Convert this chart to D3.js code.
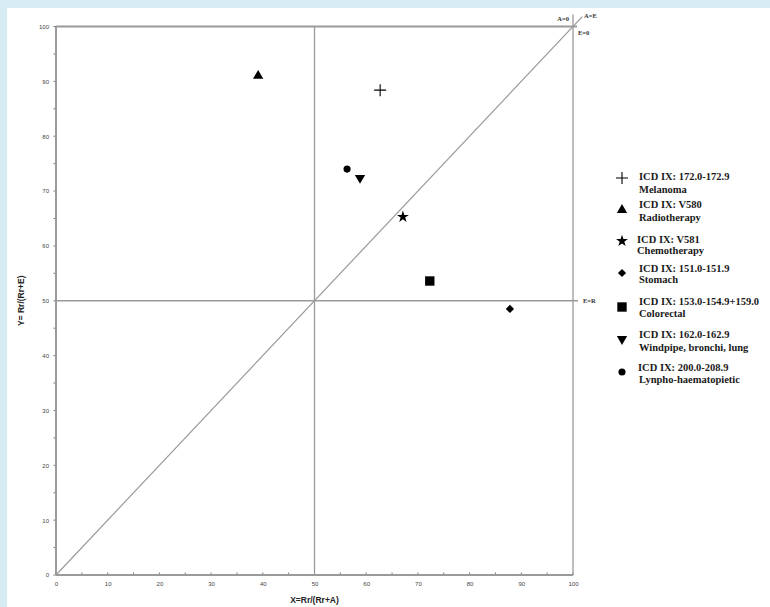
<!DOCTYPE html>
<html>
<head>
<meta charset="utf-8">
<script src="https://cdn.jsdelivr.net/npm/d3@7"></script>
<style>
body{margin:0;background:#d7ecf2;}
svg{display:block;}
</style>
</head>
<body>
<svg id="chart" width="770" height="607"></svg>
<script>
// ---- data ----
const codes = ["ICD IX: 172.0-172.9","ICD IX: V580","ICD IX: V581","ICD IX: 151.0-151.9","ICD IX: 153.0-154.9+159.0","ICD IX: 162.0-162.9","ICD IX: 200.0-208.9"];
const names = ["Melanoma","Radiotherapy","Chemotherapy","Stomach","Colorectal","Windpipe, bronchi, lung","Lynpho-haematopietic"];
const xValues = [62.7, 39.1, 67.1, 87.8, 72.3, 58.8, 56.3];
const yValues = [88.4, 91.0, 65.3, 48.5, 53.6, 72.4, 74.0];
const shapes = ["plus","triangle","star","diamond","square","triangleDown","circle"];
const tickValues = [0,10,20,30,40,50,60,70,80,90,100];
const minorTicks = [5,15,25,35,45,55,65,75,85,95];

const svg = d3.select("#chart");
svg.append("rect").attr("x",7).attr("y",8).attr("width",763).attr("height",599).attr("fill","#fff");

const x = d3.scaleLinear().domain([0,100]).range([56,573]);
const y = d3.scaleLinear().domain([0,100]).range([575,26.5]);
const gray = "#9a9a9a";

// axes
const xAxis = d3.axisBottom(x).tickValues(tickValues).tickSize(0).tickPadding(7).tickFormat(d3.format("d"));
const yAxis = d3.axisLeft(y).tickValues(tickValues).tickSize(0).tickPadding(7).tickFormat(d3.format("d"));
const gx = svg.append("g").attr("transform",`translate(0,${y(0)})`).call(xAxis);
const gy = svg.append("g").attr("transform",`translate(${x(0)},0)`).call(yAxis);
[gx,gy].forEach(g=>{
  g.select(".domain").remove();
  g.selectAll("text").attr("font-family","Liberation Sans, Arial, sans-serif").attr("font-size",6).attr("fill","#444");
});
// tick marks
svg.append("g").selectAll("line").data(tickValues.concat(minorTicks)).join("line")
  .attr("x1",d=>x(d)).attr("x2",d=>x(d)).attr("y1",y(0)-2.5).attr("y2",y(0))
  .attr("stroke","#777").attr("stroke-width",1);
svg.append("g").selectAll("line").data(tickValues.concat(minorTicks)).join("line")
  .attr("y1",d=>y(d)).attr("y2",d=>y(d)).attr("x1",x(0)-2.5).attr("x2",x(0))
  .attr("stroke","#777").attr("stroke-width",1);

// frame
svg.append("line").attr("x1",x(0)).attr("x2",x(0)).attr("y1",y(0)).attr("y2",y(100)).attr("stroke",gray).attr("stroke-width",2);
svg.append("line").attr("x1",x(0)).attr("x2",x(100)).attr("y1",y(0)).attr("y2",y(0)).attr("stroke",gray).attr("stroke-width",2);
svg.append("line").attr("x1",x(0)).attr("x2",x(100)+4).attr("y1",y(100)).attr("y2",y(100)).attr("stroke",gray).attr("stroke-width",2);
svg.append("line").attr("x1",x(100)).attr("x2",x(100)).attr("y1",y(0)).attr("y2",y(100)-12).attr("stroke",gray).attr("stroke-width",1.3);
// reference lines
svg.append("line").attr("x1",x(50)).attr("x2",x(50)).attr("y1",y(0)).attr("y2",y(100)).attr("stroke",gray).attr("stroke-width",1.3);
svg.append("line").attr("x1",x(0)).attr("x2",x(100)+5).attr("y1",y(50)).attr("y2",y(50)).attr("stroke",gray).attr("stroke-width",1.3);
svg.append("line").attr("x1",x(0)).attr("y1",y(0)).attr("x2",x(101.8)).attr("y2",y(101.8)).attr("stroke",gray).attr("stroke-width",1.2);

// line labels
const lab = (t,xx,yy,anchor)=>svg.append("text").attr("x",xx).attr("y",yy).attr("text-anchor",anchor||"start")
  .attr("font-family","Liberation Serif, Times New Roman, serif").attr("font-weight","bold").attr("font-size",6.5).attr("fill","#333").text(t);
lab("A=0",x(100)-4,y(100)-6,"end");
lab("A=E",x(100)+11,y(100)-9);
lab("E=0",x(100)+5,y(100)+8);
lab("E=R",x(100)+10,y(50)+2);

// axis titles
svg.append("text").attr("x",x(50)).attr("y",603).attr("text-anchor","middle")
  .attr("font-family","Liberation Sans, Arial, sans-serif").attr("font-weight","bold").attr("font-size",8.5).attr("fill","#222").text("X=Rr/(Rr+A)");
svg.append("text").attr("transform",`translate(24,${y(50)}) rotate(-90)`).attr("text-anchor","middle")
  .attr("font-family","Liberation Sans, Arial, sans-serif").attr("font-weight","bold").attr("font-size",8.5).attr("fill","#222").text("Y= Rr/(Rr+E)");

// symbols
function drawSymbol(g, shape, scale){
  scale = scale||1;
  if(shape==="plus"){
    g.append("path").attr("d",`M${-6*scale},0H${6*scale}M0,${-6*scale}V${6*scale}`).attr("stroke","#000").attr("stroke-width",1.1).attr("fill","none");
    return;
  }
  const map = {triangle:[d3.symbolTriangle,46,0],triangleDown:[d3.symbolTriangle,46,180],star:[d3.symbolStar,44,0],
    diamond:[d3.symbolSquare,34,45],square:[d3.symbolSquare,88,0],circle:[d3.symbolCircle,40,0]};
  const m = map[shape];
  g.append("path").attr("d",d3.symbol(m[0],m[1]*scale*scale)()).attr("transform",`rotate(${m[2]})`).attr("fill","#000");
}
const pts = svg.append("g");
xValues.forEach((v,i)=>{
  const g = pts.append("g").attr("transform",`translate(${x(v)},${y(yValues[i])})`);
  drawSymbol(g, shapes[i]);
});

// legend
const legendY = [178,210,241,273,307,339,372];
const textY1 = [180,208,243,272,305,338,371];
const textY2 = [193,221,254,283,317,351,383];
const leg = svg.append("g");
codes.forEach((c,i)=>{
  const g = leg.append("g").attr("transform",`translate(622,${legendY[i]})`);
  drawSymbol(g, shapes[i]);
  const tx = i===2?637:639;
  leg.append("text").attr("x",tx+ (i===6?-1:0)).attr("y",textY1[i]).attr("font-family","Liberation Serif, Times New Roman, serif")
    .attr("font-weight","bold").attr("font-size",10.5).attr("fill","#1a1a1a").text(c);
  leg.append("text").attr("x",tx).attr("y",textY2[i]).attr("font-family","Liberation Serif, Times New Roman, serif")
    .attr("font-weight","bold").attr("font-size",10.5).attr("fill","#1a1a1a").text(names[i]);
});
</script>
</body>
</html>
